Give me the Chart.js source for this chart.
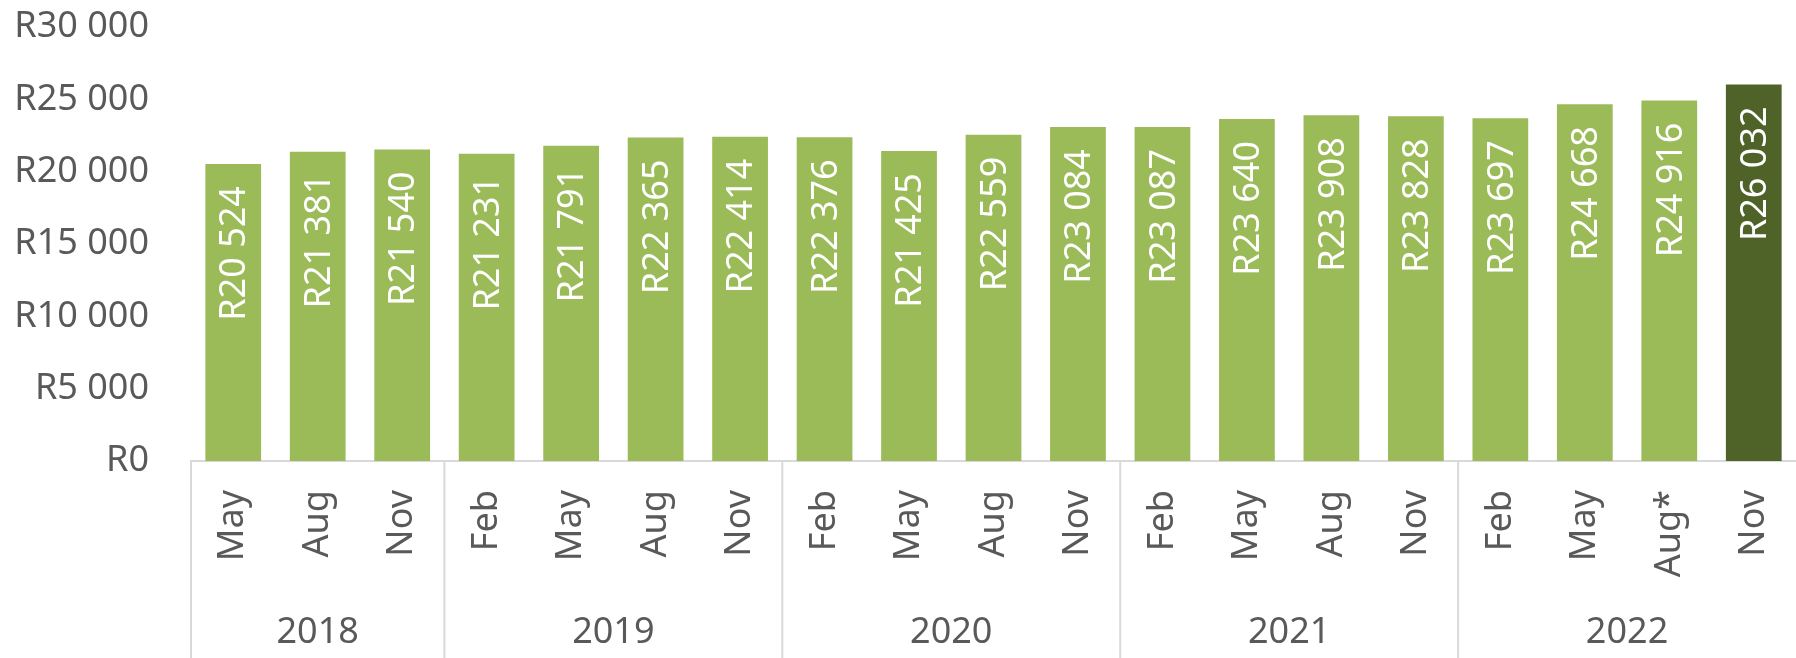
<!DOCTYPE html>
<html>
<head>
<meta charset="utf-8">
<script src="https://cdn.jsdelivr.net/npm/chart.js"></script>
<style>
  html, body { margin: 0; padding: 0; background: #fff; }
  #wrap { width: 1796px; height: 658px; position: relative; }
</style>
</head>
<body>
<div id="wrap"><canvas id="chart"></canvas></div>
<script>
// data
const months = ['May', 'Aug', 'Nov', 'Feb', 'May', 'Aug', 'Nov', 'Feb', 'May', 'Aug', 'Nov',
                'Feb', 'May', 'Aug', 'Nov', 'Feb', 'May', 'Aug*', 'Nov'];
const years = ['2018', '2018', '2018', '2019', '2019', '2019', '2019', '2020', '2020', '2020', '2020',
               '2021', '2021', '2021', '2021', '2022', '2022', '2022', '2022'];
const values = [20524, 21381, 21540, 21231, 21791, 22365, 22414, 22376, 21425, 22559, 23084,
                23087, 23640, 23908, 23828, 23697, 24668, 24916, 26032];
const yTicks = [0, 5000, 10000, 15000, 20000, 25000, 30000];

const FONT = '"Noto Sans", "Open Sans", sans-serif';
const GREY = '#595959';
const LINE = '#d9d9d9';

function rand(v) {
    // R26 032 style
    return 'R' + String(Math.round(v)).replace(/\B(?=(\d{3})+(?!\d))/g, ' ');
}

// labels inside bars, rotated, near the top
const barLabels = {
    id: 'barLabels',
    afterDatasetsDraw(chart) {
        const ctx = chart.ctx;
        const meta = chart.getDatasetMeta(0);
        ctx.save();
        ctx.font = '36px ' + FONT;
        ctx.fillStyle = '#ffffff';
        ctx.textAlign = 'right';
        ctx.textBaseline = 'middle';
        meta.data.forEach((bar, i) => {
            ctx.save();
            ctx.translate(bar.x, bar.y + 22);
            ctx.rotate(-Math.PI / 2);
            ctx.fillText(rand(values[i]), 0, 2);
            ctx.restore();
        });
        ctx.restore();
    }
};

// year groups under the month labels
const yearGroups = {
    id: 'yearGroups',
    afterDraw(chart) {
        const ctx = chart.ctx;
        const x = chart.scales.x;
        const half = (x.getPixelForValue(1) - x.getPixelForValue(0)) / 2;
        const top = chart.chartArea.bottom;
        const bottom = chart.height;

        // find the groups
        const groups = [];
        years.forEach((y, i) => {
            const g = groups[groups.length - 1];
            if (g && g.year === y) g.end = i;
            else groups.push({ year: y, start: i, end: i });
        });

        ctx.save();
        ctx.strokeStyle = LINE;
        ctx.lineWidth = 2;
        ctx.font = '36px ' + FONT;
        ctx.fillStyle = GREY;
        ctx.textAlign = 'center';
        ctx.textBaseline = 'middle';
        groups.forEach((g, k) => {
            const x0 = x.getPixelForValue(g.start) - half;
            const x1 = x.getPixelForValue(g.end) + half;
            ctx.beginPath();
            ctx.moveTo(x0, top);
            ctx.lineTo(x0, bottom);
            ctx.stroke();
            ctx.fillText(g.year, (x0 + x1) / 2, 633);
        });
        ctx.restore();
    }
};

new Chart(document.getElementById('chart'), {
    type: 'bar',
    data: {
        labels: months,
        datasets: [{
            data: values,
            backgroundColor: values.map((v, i) => i === values.length - 1 ? '#4f6228' : '#9bbb59'),
            barPercentage: 0.66,
            categoryPercentage: 1.0
        }]
    },
    options: {
        responsive: true,
        maintainAspectRatio: false,
        animation: false,
        layout: { padding: { top: 27, right: 0, left: 0, bottom: 0 } },
        plugins: {
            legend: { display: false },
            tooltip: { enabled: false }
        },
        scales: {
            x: {
                grid: { display: false, drawTicks: false },
                border: { display: true, color: LINE, width: 2 },
                ticks: {
                    color: GREY,
                    font: { family: FONT, size: 36 },
                    minRotation: 90,
                    maxRotation: 90,
                    autoSkip: false,
                    padding: 29
                },
                afterFit(scale) {
                    scale.height = 197;
                    scale.paddingLeft = 0;
                    scale.paddingRight = 0;
                }
            },
            y: {
                min: 0,
                max: 30000,
                afterBuildTicks(scale) { scale.ticks = yTicks.map(v => ({ value: v })); },
                grid: { display: false, drawTicks: false },
                border: { display: false },
                ticks: {
                    color: GREY,
                    font: { family: FONT, size: 36 },
                    padding: 42,
                    callback: v => rand(v)
                },
                afterFit(scale) {
                    scale.width = 191;
                    scale.paddingTop = 0;
                    scale.paddingBottom = 0;
                }
            }
        }
    },
    plugins: [barLabels, yearGroups]
});
</script>
</body>
</html>
